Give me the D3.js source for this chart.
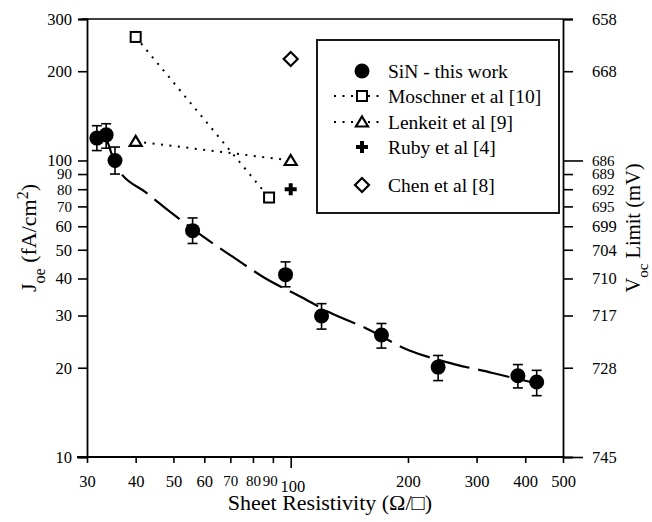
<!DOCTYPE html>
<html>
<head>
<meta charset="utf-8">
<script src="https://cdn.jsdelivr.net/npm/d3@7"></script>
<style>
  body { margin: 0; background: #fff; }
</style>
</head>
<body>
<svg id="chart" width="652" height="522"></svg>
<script>
// SiN - this work (sheet resistivity, Joe, error bar low/high)
const sinR    = [31.8, 33.6, 35.4, 56, 97, 120, 171, 239, 383, 428];
const sinJ    = [119, 122, 100, 58, 41.2, 29.9, 25.8, 20.1, 18.8, 17.9];
const sinLow  = [108, 110, 90, 52.5, 37.5, 27, 23.3, 18.1, 17.1, 16.1];
const sinHigh = [131, 133, 111, 64, 45.5, 32.9, 28.2, 22, 20.5, 19.6];

// dashed fit through the SiN data
const fitR = [33.6, 35.9, 42.8, 58.9, 71.4, 85.4, 107, 126, 156, 201, 251, 330, 428];
const fitJ = [120, 94.4, 77.5, 56, 47.1, 40.3, 34.5, 30.7, 27.2, 22.9, 20.9, 19.2, 17.7];

const moschnerR = [40, 88];
const moschnerJ = [261, 75];
const lenkeitR  = [40, 100];
const lenkeitJ  = [116, 100];
const rubyR     = [100];
const rubyJ     = [80];
const chenR     = [100];
const chenJ     = [220];

const xTicks = [30, 40, 50, 60, 70, 80, 90, 100, 200, 300, 400, 500];
const yTicks = [10, 20, 30, 40, 50, 60, 70, 80, 90, 100, 200, 300];
// right axis: Voc limit labels placed at the matching Joe value
const vocAtJ   = [300, 200, 100, 90, 80, 70, 60, 50, 40, 30, 20, 10];
const vocLabel = [658, 668, 686, 689, 692, 695, 699, 704, 710, 717, 728, 745];

const legendNames = ['SiN - this work', 'Moschner et al [10]', 'Lenkeit et al [9]', 'Ruby et al [4]', 'Chen et al [8]'];

const serif = '"Liberation Serif", "Times New Roman", serif';
const margin = { left: 87, top: 19, right: 89, bottom: 65 };
const W = 652, H = 522;
const iw = W - margin.left - margin.right;
const ih = H - margin.top - margin.bottom;

const svg = d3.select('#chart');
const g = svg.append('g').attr('transform', `translate(${margin.left},${margin.top})`);

const x = d3.scaleLog().domain([30, 500]).range([0, iw]);
const y = d3.scaleLog().domain([10, 300]).range([ih, 0]);

// frame: top line
g.append('line').attr('x1', -5).attr('x2', iw).attr('y1', 0).attr('y2', 0)
  .attr('stroke', '#000').attr('stroke-width', 1.6);

// axes
const xAxis = g.append('g').attr('transform', `translate(0,${ih})`)
  .call(d3.axisBottom(x).tickValues(xTicks).tickFormat(d3.format('d')).tickSize(6).tickPadding(12));
const yAxis = g.append('g')
  .call(d3.axisLeft(y).tickValues(yTicks).tickFormat(d3.format('d')).tickSize(9).tickPadding(6));
const rAxis = g.append('g').attr('transform', `translate(${iw},0)`)
  .call(d3.axisRight(y).tickValues(vocAtJ).tickFormat((d, i) => vocLabel[i]).tickSize(10).tickPadding(19));

[xAxis, yAxis, rAxis].forEach(a => {
  a.attr('font-family', null).attr('font-size', null);
  a.select('.domain').attr('stroke', '#000').attr('stroke-width', 1.8);
  a.selectAll('.tick line').attr('stroke', '#000').attr('stroke-width', 1.6);
  a.selectAll('.tick text').attr('fill', '#000')
    .style('font-family', serif).style('font-size', '16.5px');
});
// the tightly packed labels are set a touch smaller
yAxis.selectAll('.tick').filter(d => d >= 70 && d <= 90).select('text').style('font-size', '15px');
rAxis.selectAll('.tick').filter(d => d >= 70 && d <= 100).select('text').style('font-size', '15px');
xAxis.selectAll('.tick').filter(d => d >= 70 && d <= 90).select('text').style('font-size', '15px');
xAxis.selectAll('.tick').filter(d => d === 100).select('line').attr('y2', 11);
xAxis.selectAll('.tick').filter(d => d === 100).select('text').attr('dy', '1.0em').attr('dx', '0.1em');
xAxis.selectAll('.tick').filter(d => d === 90).select('text').attr('dx', '-0.2em');
rAxis.selectAll('.tick').filter(d => d === 100 || d === 10).select('line').attr('x2', 20);
yAxis.selectAll('.tick').filter(d => d === 10).select('line').attr('x2', -10);
xAxis.select('.domain').attr('d', `M-10,0H${iw}`);

// dashed fit
const fitLine = d3.line().x(d => x(d[0])).y(d => y(d[1])).curve(d3.curveMonotoneX);
g.append('path').datum(d3.zip(fitR, fitJ)).attr('d', fitLine)
  .attr('fill', 'none').attr('stroke', '#000').attr('stroke-width', 2.2)
  .attr('stroke-dasharray', '32,9');

// dotted literature lines
const straight = d3.line().x(d => x(d[0])).y(d => y(d[1]));
[[moschnerR, moschnerJ], [lenkeitR, lenkeitJ]].forEach(([rs, js]) => {
  g.append('path').datum(d3.zip(rs, js)).attr('d', straight)
    .attr('fill', 'none').attr('stroke', '#000').attr('stroke-width', 2)
    .attr('stroke-dasharray', '2,6.5');
});

// error bars + SiN points
const sin = sinR.map((r, i) => ({ r, j: sinJ[i], lo: sinLow[i], hi: sinHigh[i] }));
const eb = g.append('g').selectAll('g').data(sin).join('g');
eb.append('line').attr('x1', d => x(d.r)).attr('x2', d => x(d.r))
  .attr('y1', d => y(d.lo)).attr('y2', d => y(d.hi)).attr('stroke', '#000').attr('stroke-width', 1.6);
eb.append('line').attr('x1', d => x(d.r) - 5).attr('x2', d => x(d.r) + 5)
  .attr('y1', d => y(d.lo)).attr('y2', d => y(d.lo)).attr('stroke', '#000').attr('stroke-width', 1.6);
eb.append('line').attr('x1', d => x(d.r) - 5).attr('x2', d => x(d.r) + 5)
  .attr('y1', d => y(d.hi)).attr('y2', d => y(d.hi)).attr('stroke', '#000').attr('stroke-width', 1.6);
eb.append('circle').attr('cx', d => x(d.r)).attr('cy', d => y(d.j)).attr('r', 7.5).attr('fill', '#000');

// marker shapes
function drawMarker(sel, type) {
  if (type === 'circle') {
    sel.append('circle').attr('r', 7.5).attr('fill', '#000');
  } else if (type === 'square') {
    sel.append('rect').attr('x', -5).attr('y', -5).attr('width', 10).attr('height', 10)
      .attr('fill', '#fff').attr('stroke', '#000').attr('stroke-width', 2);
  } else if (type === 'triangle') {
    sel.append('path').attr('d', 'M0,-5.5L6,4.5L-6,4.5Z')
      .attr('fill', '#fff').attr('stroke', '#000').attr('stroke-width', 2.2);
  } else if (type === 'plus') {
    sel.append('path').attr('d', 'M-6,0H6M0,-6V6').attr('stroke', '#000').attr('stroke-width', 4);
  } else if (type === 'diamond') {
    sel.append('path').attr('d', 'M0,-7L7,0L0,7L-7,0Z')
      .attr('fill', '#fff').attr('stroke', '#000').attr('stroke-width', 2.2);
  }
}
const lit = [
  [moschnerR, moschnerJ, 'square'],
  [lenkeitR, lenkeitJ, 'triangle'],
  [rubyR, rubyJ, 'plus'],
  [chenR, chenJ, 'diamond']
];
lit.forEach(([rs, js, type]) => {
  rs.forEach((r, i) => {
    const m = g.append('g').attr('transform', `translate(${x(r)},${y(js[i])})`);
    drawMarker(m, type);
  });
});

// legend
const lg = svg.append('g').attr('transform', 'translate(317,40)');
lg.append('rect').attr('width', 242).attr('height', 173)
  .attr('fill', '#fff').attr('stroke', '#000').attr('stroke-width', 1.8);
const legTypes = ['circle', 'square', 'triangle', 'plus', 'diamond'];
const legY = [31, 56, 82, 107, 145];
legTypes.forEach((t, i) => {
  const row = lg.append('g').attr('transform', `translate(0,${legY[i]})`);
  if (t === 'square' || t === 'triangle') {
    row.append('line').attr('x1', 17).attr('x2', 66).attr('y1', 0).attr('y2', 0)
      .attr('stroke', '#000').attr('stroke-width', 2).attr('stroke-dasharray', '2,6.5');
  }
  drawMarker(row.append('g').attr('transform', 'translate(45,0)'), t);
  row.append('text').attr('x', 71).attr('y', 0).attr('dy', '0.35em')
    .style('font-family', serif).style('font-size', '19.5px').text(legendNames[i]);
});

// axis titles
svg.append('text').attr('x', 330).attr('y', 510).attr('text-anchor', 'middle')
  .style('font-family', serif).style('font-size', '22px').text('Sheet Resistivity (\u03A9/\u25A1)');

const yt = svg.append('text').attr('transform', 'translate(36,238) rotate(-90)')
  .attr('text-anchor', 'middle').style('font-family', serif).style('font-size', '22px');
yt.append('tspan').text('J');
yt.append('tspan').attr('baseline-shift', 'sub').style('font-size', '16px').text('oe');
yt.append('tspan').text(' (fA/cm');
yt.append('tspan').attr('baseline-shift', 'super').style('font-size', '16px').text('2');
yt.append('tspan').text(')');

const rt = svg.append('text').attr('transform', 'translate(640,228) rotate(-90)')
  .attr('text-anchor', 'middle').style('font-family', serif).style('font-size', '20.5px');
rt.append('tspan').text('V');
rt.append('tspan').attr('baseline-shift', 'sub').style('font-size', '15px').text('oc');
rt.append('tspan').text(' Limit (mV)');
</script>
</body>
</html>
